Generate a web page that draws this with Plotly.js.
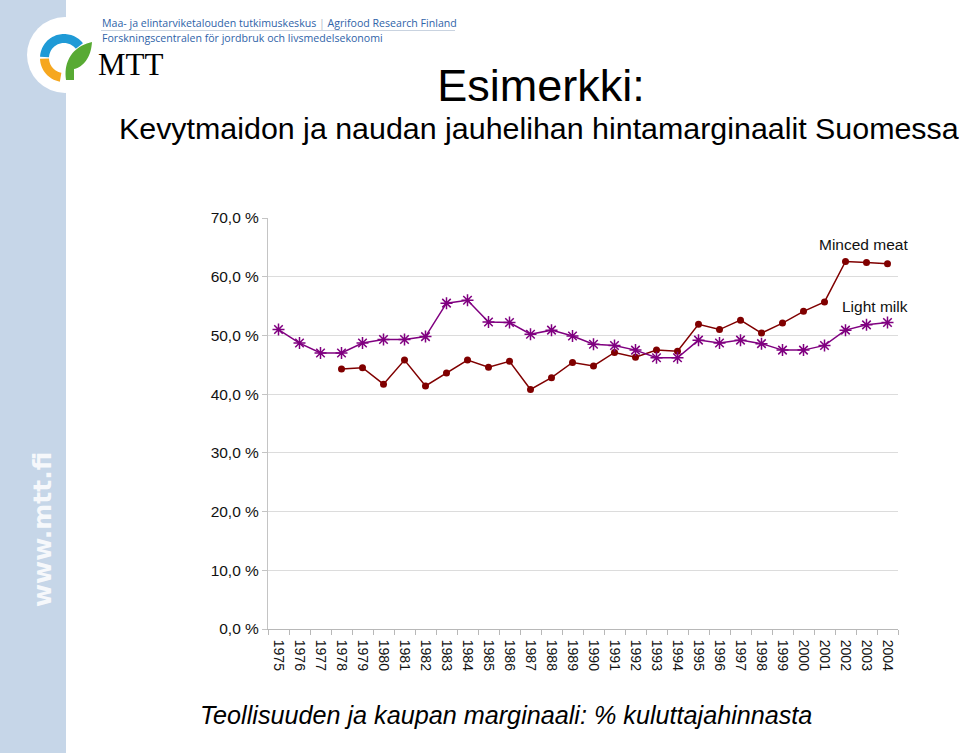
<!DOCTYPE html>
<html>
<head>
<meta charset="utf-8">
<script src="https://cdn.plot.ly/plotly-3.0.1.min.js"></script>
<style>
html,body{margin:0;padding:0;background:#fff;}
#chart{width:959px;height:753px;}
</style>
</head>
<body>
<div id="chart"></div>
<script>
// ---- data ----
const years = ['1975','1976','1977','1978','1979','1980','1981','1982','1983','1984','1985','1986','1987','1988','1989','1990','1991','1992','1993','1994','1995','1996','1997','1998','1999','2000','2001','2002','2003','2004'];
const lightMilk = [51.0,48.7,47.0,47.0,48.7,49.3,49.3,49.8,55.5,56.0,52.3,52.2,50.2,50.9,49.9,48.5,48.3,47.5,46.2,46.2,49.2,48.7,49.2,48.6,47.5,47.5,48.3,50.9,51.8,52.2];
const mincedMeat = [null,null,null,44.3,44.5,41.7,45.8,41.4,43.6,45.8,44.6,45.6,40.8,42.8,45.4,44.8,47.1,46.3,47.5,47.3,51.9,51.0,52.6,50.4,52.1,54.1,55.7,62.6,62.4,62.2];
const yTickVals = [0,10,20,30,40,50,60,70];
const yTickText = ['0,0 %','10,0 %','20,0 %','30,0 %','40,0 %','50,0 %','60,0 %','70,0 %'];
const seriesNames = ['Minced meat','Light milk'];

// ---- layout geometry (pixels) ----
const W = 959, H = 753;
const L = 268, R = 898, T = 218, B = 629;
function px(x){ return (x - L) / (R - L); }
function py(y){ return (B - y) / (B - T); }
function pathFromPx(pts, close){
  let s = '';
  pts.forEach((p,i)=>{ s += (i? ' L ':'M ') + px(p[0]).toFixed(5) + ',' + py(p[1]).toFixed(5); });
  return s + (close ? ' Z' : '');
}
function ring(cx, cy, r1, r2, a0, a1){
  const pts = [], n = 40;
  for(let i=0;i<=n;i++){ const a=(a0+(a1-a0)*i/n)*Math.PI/180; pts.push([cx+r2*Math.cos(a), cy+r2*Math.sin(a)]); }
  for(let i=n;i>=0;i--){ const a=(a0+(a1-a0)*i/n)*Math.PI/180; pts.push([cx+r1*Math.cos(a), cy+r1*Math.sin(a)]); }
  return pathFromPx(pts, true);
}
function bez(p0,c1,c2,p1,n){
  const out=[];
  for(let i=0;i<=n;i++){const t=i/n,u=1-t;
    out.push([u*u*u*p0[0]+3*u*u*t*c1[0]+3*u*t*t*c2[0]+t*t*t*p1[0], u*u*u*p0[1]+3*u*u*t*c1[1]+3*u*t*t*c2[1]+t*t*t*p1[1]]);}
  return out;
}
const leafPts = [].concat(
  bez([66,80],[63,60],[74,46],[92,42],20),
  bez([92,42],[91,58],[83,67],[74,69],20),
  [[74,80]]
);

const traces = [
  {
    x: years, y: mincedMeat, name: seriesNames[0], type: 'scatter', mode: 'lines+markers',
    line: {color: '#800000', width: 1.5},
    marker: {symbol: 'circle', size: 7, color: '#800000'},
    connectgaps: false
  },
  {
    x: years, y: lightMilk, name: seriesNames[1], type: 'scatter', mode: 'lines+markers',
    line: {color: '#800080', width: 1.5},
    marker: {symbol: 'asterisk-open', size: 10, color: '#800080', line: {color: '#800080', width: 1.5}}
  }
];

const layout = {
  width: W, height: H,
  paper_bgcolor: '#ffffff', plot_bgcolor: '#ffffff',
  margin: {l: L, r: W - R, t: T, b: H - B, pad: 0},
  showlegend: false,
  font: {family: 'Liberation Sans, Arial, sans-serif', color: '#000'},
  title: {
    text: 'Esimerkki:', x: 541/W, xref: 'container', xanchor: 'center',
    y: 1 - 85/H, yref: 'container', yanchor: 'middle',
    font: {size: 45, color: '#000', family: 'Liberation Sans, Arial, sans-serif'}
  },
  xaxis: {
    type: 'category', categoryorder: 'array', categoryarray: years,
    range: [-0.5, years.length - 0.5],
    showline: true, linecolor: '#b8b8b8', linewidth: 1,
    ticks: 'outside', tickson: 'boundaries', ticklen: 5, tickcolor: '#b8b8b8',
    tickangle: 90, tickfont: {size: 14, color: '#111'}, ticklabelstandoff: 7,
    showgrid: false, zeroline: false, fixedrange: true
  },
  yaxis: {
    range: [0, 70], tickvals: yTickVals, ticktext: yTickText,
    showline: true, linecolor: '#c4c4c4', linewidth: 1,
    ticks: 'outside', ticklen: 5, tickcolor: '#c4c4c4',
    gridcolor: '#dcdcdc', gridwidth: 1, zeroline: false,
    tickfont: {size: 15.5, color: '#111'}, fixedrange: true
  },
  shapes: [
    {type:'rect', xref:'paper', yref:'paper', x0: px(0), x1: px(66), y0: py(H), y1: py(0),
     fillcolor:'#c6d6e8', line:{width:0}, layer:'below'},
    {type:'circle', xref:'paper', yref:'paper', x0: px(27), x1: px(103), y0: py(93), y1: py(17),
     fillcolor:'#ffffff', line:{width:0}, layer:'below'},
    {type:'path', xref:'paper', yref:'paper', path: ring(64, 58, 15, 24, 183, 322), fillcolor:'#1f9ad6', line:{width:0}},
    {type:'path', xref:'paper', yref:'paper', path: ring(64, 58, 15, 24, 100, 178), fillcolor:'#f6a71f', line:{width:0}},
    {type:'path', xref:'paper', yref:'paper', path: pathFromPx(leafPts, true), fillcolor:'#58aa33', line:{width:0}},
    {type:'line', xref:'paper', yref:'paper', x0: px(101), x1: px(455), y0: py(30.5), y1: py(30.5),
     line:{color:'#c9d3e0', width:1}}
  ],
  annotations: [
    {text: 'Maa- ja elintarviketalouden tutkimuskeskus <span style="color:#b0b8c8">|</span> Agrifood Research Finland',
     xref:'paper', yref:'paper', x: px(100), y: py(23), xanchor:'left', yanchor:'middle', showarrow:false,
     font:{family:'Open Sans, sans-serif', size: 10.6, color:'#2f63a8'}},
    {text: 'Forskningscentralen för jordbruk och livsmedelsekonomi',
     xref:'paper', yref:'paper', x: px(100), y: py(37.5), xanchor:'left', yanchor:'middle', showarrow:false,
     font:{family:'Open Sans, sans-serif', size: 10.6, color:'#2f63a8'}},
    {text: 'MTT', xref:'paper', yref:'paper', x: px(96), y: py(65), xanchor:'left', yanchor:'middle', showarrow:false,
     font:{family:'Liberation Serif, serif', size: 31, color:'#000'}},
    {text: '<b>www.mtt.fi</b>', xref:'paper', yref:'paper', x: px(42), y: py(530), xanchor:'center', yanchor:'middle',
     textangle: -90, showarrow:false, font:{family:'DejaVu Sans, sans-serif', size: 25, color:'rgba(255,255,255,0.85)'}},
    {text: 'Kevytmaidon ja naudan jauhelihan hintamarginaalit Suomessa',
     xref:'paper', yref:'paper', x: px(539), y: py(128), xanchor:'center', yanchor:'middle', showarrow:false,
     font:{size: 30.4, color:'#000'}},
    {text: '<i>Teollisuuden ja kaupan marginaali: % kuluttajahinnasta</i>',
     xref:'paper', yref:'paper', x: px(506), y: py(715), xanchor:'center', yanchor:'middle', showarrow:false,
     font:{size: 25.2, color:'#000'}},
    {text: seriesNames[0], xref:'paper', yref:'y', x: px(910), y: (B-244)/((B-T)/70), xanchor:'right', yanchor:'middle',
     showarrow:false, font:{size: 15.5, color:'#111'}},
    {text: seriesNames[1], xref:'paper', yref:'y', x: px(910), y: (B-306)/((B-T)/70), xanchor:'right', yanchor:'middle',
     showarrow:false, font:{size: 15.5, color:'#111'}}
  ]
};

Plotly.newPlot('chart', traces, layout, {displayModeBar: false, staticPlot: true});
</script>
</body>
</html>
